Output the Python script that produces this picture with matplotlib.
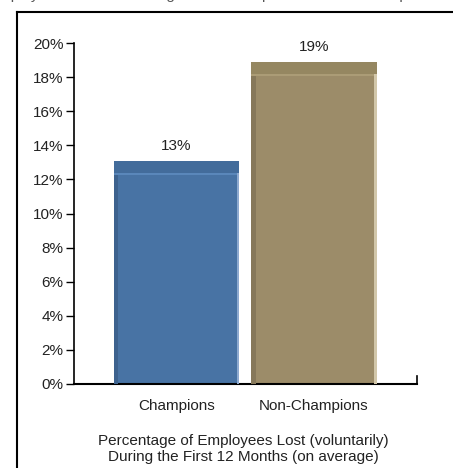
import matplotlib
matplotlib.use("Agg")
import matplotlib.pyplot as plt
from matplotlib.lines import Line2D

# Data
categories = ["Champions", "Non-Champions"]
values = [13.1, 18.9]
value_labels = ["13%", "19%"]
y_ticks = [0, 2, 4, 6, 8, 10, 12, 14, 16, 18, 20]
caption = "Percentage of Employees Lost (voluntarily)\nDuring the First 12 Months (on average)"
top_text = "Employees lost due to integration: Champions vs. Non-Champion averages"

# Colours (main, top band, highlight line, left shade, right edge)
main_colors = ["#4873a4", "#9c8c69"]
band_colors = ["#436c9b", "#958761"]
light_colors = ["#5a87ba", "#ab9c76"]
shade_colors = ["#3d628e", "#86785a"]
edge_colors = ["#8eaad0", "#d2c7aa"]

plt.rcParams["font.family"] = ["Liberation Sans", "DejaVu Sans"]
text_color = "#222222"

fig = plt.figure(figsize=(4.53, 4.68), dpi=100)
ax = fig.add_axes([0.1634, 0.1795, 0.7571, 0.7286])

x = list(range(len(categories)))
width = 0.91
band = 0.7
shade = 0.03

ax.bar(x, values, width=width, color=main_colors, zorder=2)
for i, v in enumerate(values):
    left = x[i] - width / 2
    # darker top band
    ax.bar(x[i], band, bottom=v - band, width=width, color=band_colors[i], zorder=3)
    # thin highlight below the band
    ax.bar(x[i], 0.12, bottom=v - band - 0.12, width=width, color=light_colors[i], zorder=3)
    # left shaded side
    ax.bar(left + shade / 2, v - band - 0.12, width=shade, color=shade_colors[i], zorder=3)
    # light right edge
    ax.bar(left + width - 0.008, v - band, width=0.016, color=edge_colors[i], zorder=3)
    ax.text(x[i], v + 0.45, value_labels[i], ha="center", va="bottom",
            fontsize=11, color=text_color)

ax.set_xlim(-0.745, 1.749)
ax.set_ylim(0, 20)
ax.set_yticks(y_ticks)
ax.set_yticklabels([f"{t}%" for t in y_ticks], fontsize=11, color=text_color)
ax.set_xticks(x)
ax.set_xticklabels(categories, fontsize=11, color=text_color)
ax.tick_params(axis="x", length=0, pad=11)
ax.tick_params(axis="y", length=6, width=1, direction="out", pad=1.5)

for s in ["top", "right"]:
    ax.spines[s].set_visible(False)
ax.spines["left"].set_linewidth(1.2)
ax.spines["bottom"].set_linewidth(1.5)

# small end tick at right of x-axis
ax.plot([1.749, 1.749], [0, 0.45], color="black", lw=1.2, clip_on=False, zorder=4)

fig.text(243 / 453, 1 - 449 / 468, caption, ha="center", va="center",
         fontsize=11, color=text_color, linespacing=1.25)

# surrounding frame (cropped)
fig.add_artist(Line2D([17 / 453, 17 / 453], [0, 1 - 12 / 468], color="black", lw=1.5))
fig.add_artist(Line2D([17 / 453, 1], [1 - 12 / 468, 1 - 12 / 468], color="black", lw=1.5))

# cropped heading above frame (only its lower edge shows)
fig.text(242 / 453, 1 + 4.5 / 468, top_text, ha="center", va="center",
         fontsize=11, color="#555555")

fig.savefig("out.png", dpi=100)
